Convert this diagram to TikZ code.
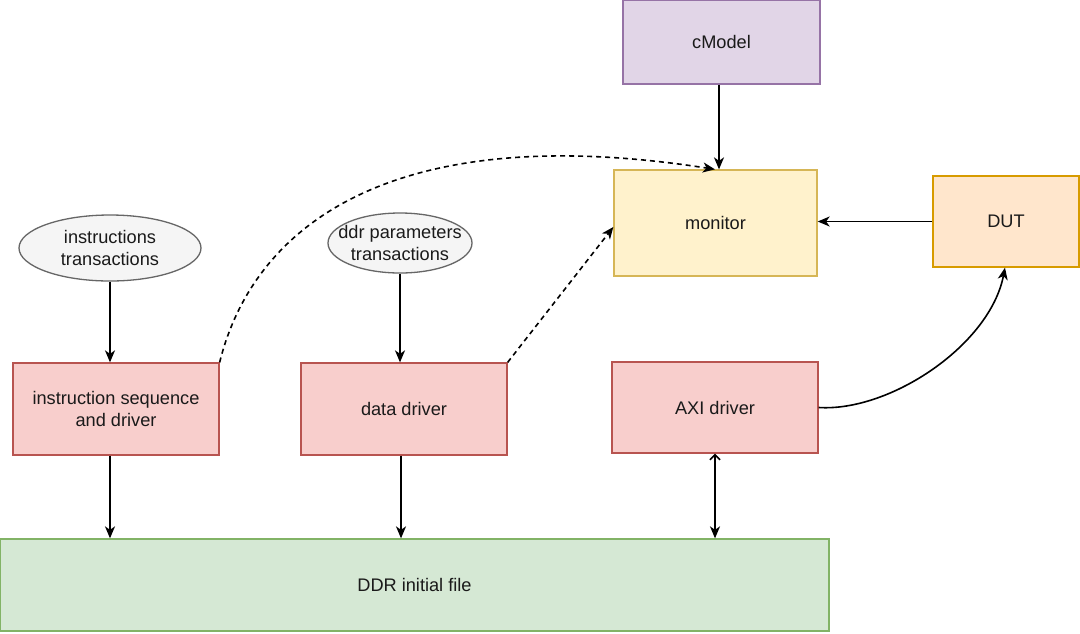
\documentclass[tikz,border=0pt]{standalone}
\usepackage{fontspec}
\setmainfont{Liberation Sans}
\usetikzlibrary{arrows.meta,shapes.geometric}
\definecolor{txt}{HTML}{1A1A1A}
\definecolor{purF}{HTML}{E1D5E7}\definecolor{purD}{HTML}{9673A6}
\definecolor{yelF}{HTML}{FFF2CC}\definecolor{yelD}{HTML}{D6B656}
\definecolor{orF}{HTML}{FFE6CC}\definecolor{orD}{HTML}{D79B00}
\definecolor{grF}{HTML}{F5F5F5}\definecolor{grD}{HTML}{666666}
\definecolor{redF}{HTML}{F8CECC}\definecolor{redD}{HTML}{B85450}
\definecolor{gnF}{HTML}{D5E8D4}\definecolor{gnD}{HTML}{82B366}
\begin{document}
\begin{tikzpicture}[x=1pt,y=-1pt,
  every node/.style={font=\fontsize{18.2}{22}\selectfont, text=txt, align=center, inner sep=0pt},
  box/.style={rectangle, line width=1.3pt},
  oval/.style={ellipse, line width=1.3pt, fill=grF, draw=grD},
  conn/.style={line width=1.6pt, -{Stealth[length=12pt,width=10pt,inset=3.5pt]}},
  dconn/.style={conn, dash pattern=on 5pt off 4pt}
]
\useasboundingbox[fill=white] (0,0) rectangle (1080,633);
\node[box, fill=purF, draw=purD, minimum width=197pt, minimum height=84pt] (cmodel) at (721.5,42) {cModel};
\node[box, fill=yelF, draw=yelD, minimum width=203pt, minimum height=106pt] (monitor) at (715.5,223) {monitor};
\node[box, fill=orF, draw=orD, minimum width=146pt, minimum height=91pt] (dut) at (1006,221.5) {DUT};
\node[oval, minimum width=182pt, minimum height=66pt, label={[text=txt]center:instructions\\transactions}] (instr) at (110,248) {};
\node[oval, minimum width=144pt, minimum height=60pt, label={[text=txt]center:ddr parameters\\transactions}] (ddrp) at (400,243) {};
\node[box, fill=redF, draw=redD, minimum width=206pt, minimum height=92pt] (iseq) at (116,409) {instruction sequence\\and driver};
\node[box, fill=redF, draw=redD, minimum width=206pt, minimum height=92pt] (data) at (404,409) {data driver};
\node[box, fill=redF, draw=redD, minimum width=206pt, minimum height=91pt] (axi) at (715,407.5) {AXI driver};
\node[box, fill=gnF, draw=gnD, minimum width=829pt, minimum height=92pt] (ddr) at (414.5,585) {DDR initial file};

\draw[conn] (cmodel.south -| 719,0) -- (monitor.north -| 719,0);
\draw[conn] (dut.west) -- (dut.west -| monitor.east);
\draw[conn] (instr.south) -- (instr.south |- iseq.north);
\draw[conn] (ddrp.south) -- (ddrp.south |- data.north);
\draw[conn] (iseq.south -| 110,0) -- (ddr.north -| 110,0);
\draw[conn] (data.south -| 401,0) -- (ddr.north -| 401,0);
\draw[line width=1.6pt, {Straight Barb[length=5pt,width=10pt]}-{Stealth[length=12pt,width=10pt,inset=3.5pt]}] (axi.south) -- (axi.south |- ddr.north);
\draw[dconn] (iseq.north east) .. controls (255,220) and (400,120) .. (monitor.north -| 715,0);
\draw[dconn] (data.north east) -- (monitor.west |- 0,227);
\draw[conn] (axi.east) .. controls (890,412) and (990,345) .. (dut.south -| 1005,0);
\end{tikzpicture}
\end{document}
